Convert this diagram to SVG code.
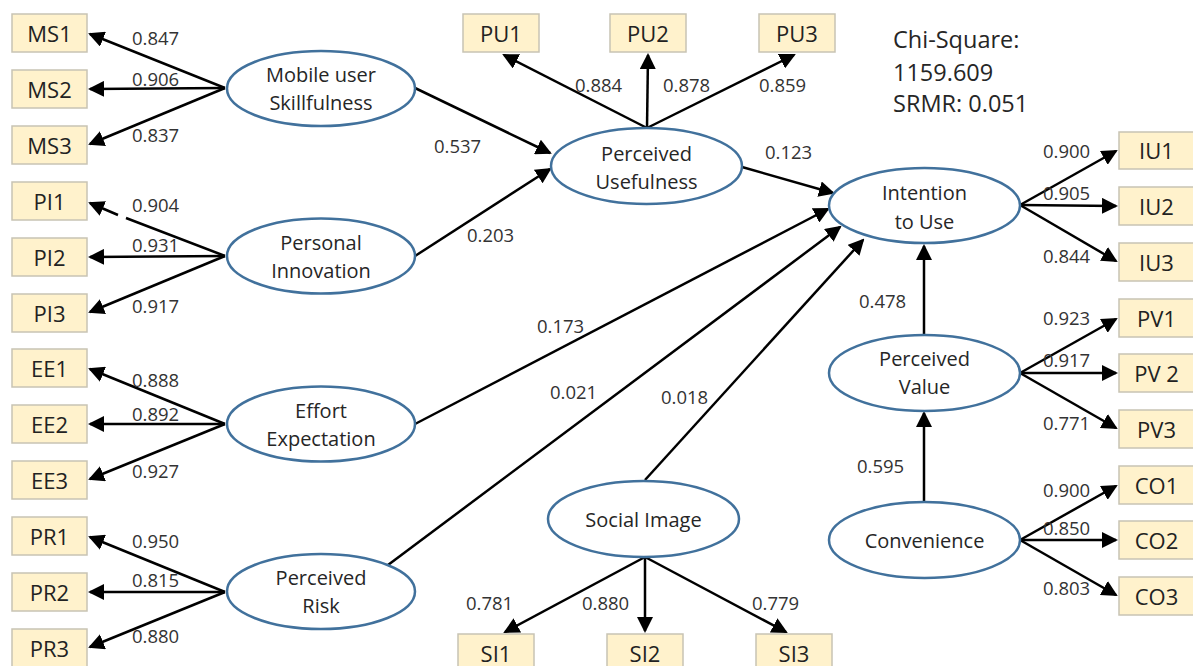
<svg xmlns="http://www.w3.org/2000/svg" width="1193" height="666" viewBox="0 0 1193 666">
<style>
.box{fill:#FFF2CC;stroke:#C8C3B4;stroke-width:1.5}
.bt{font-family:"Open Sans","Liberation Sans",sans-serif;font-size:22px;fill:#222;text-anchor:middle}
.lv{fill:#fff;stroke:#41719C;stroke-width:2.5}
.lt{font-family:"Open Sans","Liberation Sans",sans-serif;font-size:20px;fill:#262626;text-anchor:middle}
.c{stroke:#000;stroke-width:2.5;fill:none;marker-end:url(#ah)}
.w{font-family:"Open Sans","Liberation Sans",sans-serif;font-size:18.5px;fill:#333}
.fit{font-family:"Open Sans","Liberation Sans",sans-serif;font-size:23.5px;fill:#262626}
</style>
<defs>
<marker id="ah" viewBox="0 0 16 16" markerWidth="16" markerHeight="16" refX="14" refY="8" orient="auto" markerUnits="userSpaceOnUse">
<path d="M0,0 L16,8 L0,16 Z" fill="#000"/>
</marker>
</defs>
<rect width="1193" height="666" fill="#fff"/>

<g id="connectors">
<path class="c" d="M225,88 L90,34"/>
<path class="c" d="M225,88 L90,89"/>
<path class="c" d="M225,88 L90,144"/>
<path class="c" d="M225,256 L126,218 M118,215 L90,203"/>
<path class="c" d="M225,256 L90,257"/>
<path class="c" d="M225,256 L90,312"/>
<path class="c" d="M225,424 L90,369"/>
<path class="c" d="M225,424 L90,424"/>
<path class="c" d="M225,424 L90,479"/>
<path class="c" d="M225,592 L90,537"/>
<path class="c" d="M225,592 L90,592"/>
<path class="c" d="M225,592 L90,647"/>
<path class="c" d="M647,128 L504,55"/>
<path class="c" d="M647,128 L648,55"/>
<path class="c" d="M647,128 L794,55"/>
<path class="c" d="M415,88 L550,153"/>
<path class="c" d="M415,256 L550,169"/>
<path class="c" d="M742,167 L833,193"/>
<path class="c" d="M415,424 L828,209"/>
<path class="c" d="M388,565 L840,227"/>
<path class="c" d="M645,480 L863,240"/>
<path class="c" d="M924,335 L924,246"/>
<path class="c" d="M924,502 L924,413"/>
<path class="c" d="M645,557 L505,632"/>
<path class="c" d="M645,557 L645,631"/>
<path class="c" d="M645,557 L786,632"/>
<path class="c" d="M1020,205 L1116,151"/>
<path class="c" d="M1020,205 L1116,206"/>
<path class="c" d="M1020,205 L1116,261"/>
<path class="c" d="M1020,373 L1116,319"/>
<path class="c" d="M1020,373 L1116,373"/>
<path class="c" d="M1020,373 L1116,428"/>
<path class="c" d="M1020,540 L1116,486"/>
<path class="c" d="M1020,540 L1116,540"/>
<path class="c" d="M1020,540 L1116,595"/>
</g>

<g id="labels">
<text class="w" x="132" y="45">0.847</text>
<text class="w" x="132" y="86">0.906</text>
<text class="w" x="132" y="142">0.837</text>
<text class="w" x="132" y="212">0.904</text>
<text class="w" x="132" y="252">0.931</text>
<text class="w" x="132" y="313">0.917</text>
<text class="w" x="132" y="387">0.888</text>
<text class="w" x="132" y="421">0.892</text>
<text class="w" x="132" y="478">0.927</text>
<text class="w" x="132" y="548">0.950</text>
<text class="w" x="132" y="587">0.815</text>
<text class="w" x="132" y="643">0.880</text>
<text class="w" x="575" y="92">0.884</text>
<text class="w" x="663" y="92">0.878</text>
<text class="w" x="759" y="92">0.859</text>
<text class="w" x="434" y="153">0.537</text>
<text class="w" x="467" y="242">0.203</text>
<text class="w" x="765" y="159">0.123</text>
<text class="w" x="537" y="333">0.173</text>
<text class="w" x="550" y="399">0.021</text>
<text class="w" x="661" y="404">0.018</text>
<text class="w" x="466" y="610">0.781</text>
<text class="w" x="582" y="610">0.880</text>
<text class="w" x="752" y="610">0.779</text>
<text class="w" x="859" y="308">0.478</text>
<text class="w" x="857" y="473">0.595</text>
<text class="w" x="1043" y="158">0.900</text>
<text class="w" x="1043" y="200">0.905</text>
<text class="w" x="1043" y="263">0.844</text>
<text class="w" x="1043" y="325">0.923</text>
<text class="w" x="1043" y="367">0.917</text>
<text class="w" x="1043" y="430">0.771</text>
<text class="w" x="1043" y="497">0.900</text>
<text class="w" x="1043" y="535">0.850</text>
<text class="w" x="1043" y="595">0.803</text>
</g>

<g id="fit">
<text class="fit" x="893" y="48">Chi-Square:</text>
<text class="fit" x="893" y="81">1159.609</text>
<text class="fit" x="893" y="112">SRMR: 0.051</text>
</g>

<g id="MS">
<ellipse class="lv" cx="321" cy="88.5" rx="94" ry="37.5"/>
<text class="lt" x="321" y="82">Mobile user</text>
<text class="lt" x="321" y="110">Skillfulness</text>
</g>
<g id="PI">
<ellipse class="lv" cx="321" cy="256" rx="94" ry="37.5"/>
<text class="lt" x="321" y="250">Personal</text>
<text class="lt" x="321" y="278">Innovation</text>
</g>
<g id="EE">
<ellipse class="lv" cx="321" cy="424" rx="94" ry="37.5"/>
<text class="lt" x="321" y="418">Effort</text>
<text class="lt" x="321" y="446">Expectation</text>
</g>
<g id="PR">
<ellipse class="lv" cx="321" cy="591.5" rx="94" ry="37.5"/>
<text class="lt" x="321" y="585">Perceived</text>
<text class="lt" x="321" y="613">Risk</text>
</g>
<g id="PU">
<ellipse class="lv" cx="646.5" cy="166" rx="95.5" ry="38"/>
<text class="lt" x="646.5" y="161">Perceived</text>
<text class="lt" x="646.5" y="189">Usefulness</text>
</g>
<g id="IU">
<ellipse class="lv" cx="924.5" cy="205.5" rx="95.5" ry="37.5"/>
<text class="lt" x="924.5" y="200">Intention</text>
<text class="lt" x="924.5" y="229">to Use</text>
</g>
<g id="PV">
<ellipse class="lv" cx="924.5" cy="373" rx="95.5" ry="38"/>
<text class="lt" x="924.5" y="366">Perceived</text>
<text class="lt" x="924.5" y="394">Value</text>
</g>
<g id="CO">
<ellipse class="lv" cx="924.5" cy="540" rx="95.5" ry="38"/>
<text class="lt" x="924.5" y="548">Convenience</text>
</g>
<g id="SI">
<ellipse class="lv" cx="643.5" cy="519" rx="95.5" ry="38"/>
<text class="lt" x="643.5" y="527">Social Image</text>
</g>

<g id="MS1"><rect class="box" x="12" y="14" width="75" height="38"/><text class="bt" x="49.5" y="42">MS1</text></g>
<g id="MS2"><rect class="box" x="12" y="70" width="75" height="38"/><text class="bt" x="49.5" y="98">MS2</text></g>
<g id="MS3"><rect class="box" x="12" y="126" width="75" height="38"/><text class="bt" x="49.5" y="154">MS3</text></g>
<g id="PI1"><rect class="box" x="12" y="182" width="75" height="38"/><text class="bt" x="49.5" y="210">PI1</text></g>
<g id="PI2"><rect class="box" x="12" y="238" width="75" height="38"/><text class="bt" x="49.5" y="266">PI2</text></g>
<g id="PI3"><rect class="box" x="12" y="294" width="75" height="38"/><text class="bt" x="49.5" y="322">PI3</text></g>
<g id="EE1"><rect class="box" x="12" y="349" width="75" height="38"/><text class="bt" x="49.5" y="377">EE1</text></g>
<g id="EE2"><rect class="box" x="12" y="405" width="75" height="38"/><text class="bt" x="49.5" y="433">EE2</text></g>
<g id="EE3"><rect class="box" x="12" y="461" width="75" height="38"/><text class="bt" x="49.5" y="489">EE3</text></g>
<g id="PR1"><rect class="box" x="12" y="517" width="75" height="38"/><text class="bt" x="49.5" y="545">PR1</text></g>
<g id="PR2"><rect class="box" x="12" y="573" width="75" height="38"/><text class="bt" x="49.5" y="601">PR2</text></g>
<g id="PR3"><rect class="box" x="12" y="629" width="75" height="38"/><text class="bt" x="49.5" y="657">PR3</text></g>

<g id="PU1"><rect class="box" x="463" y="14" width="76" height="38"/><text class="bt" x="501" y="42">PU1</text></g>
<g id="PU2"><rect class="box" x="610" y="14" width="76" height="38"/><text class="bt" x="648" y="42">PU2</text></g>
<g id="PU3"><rect class="box" x="759" y="14" width="76" height="38"/><text class="bt" x="797" y="42">PU3</text></g>

<g id="SI1"><rect class="box" x="458" y="634" width="76" height="38"/><text class="bt" x="496" y="662">SI1</text></g>
<g id="SI2"><rect class="box" x="607" y="634" width="76" height="38"/><text class="bt" x="645" y="662">SI2</text></g>
<g id="SI3"><rect class="box" x="756" y="634" width="76" height="38"/><text class="bt" x="794" y="662">SI3</text></g>

<g id="IU1"><rect class="box" x="1119" y="132" width="75" height="37"/><text class="bt" x="1156.5" y="159">IU1</text></g>
<g id="IU2"><rect class="box" x="1119" y="187" width="75" height="38"/><text class="bt" x="1156.5" y="215">IU2</text></g>
<g id="IU3"><rect class="box" x="1119" y="243" width="75" height="38"/><text class="bt" x="1156.5" y="271">IU3</text></g>
<g id="PV1"><rect class="box" x="1119" y="299" width="75" height="38"/><text class="bt" x="1156.5" y="327">PV1</text></g>
<g id="PV2"><rect class="box" x="1119" y="354" width="75" height="38"/><text class="bt" x="1156.5" y="382">PV 2</text></g>
<g id="PV3"><rect class="box" x="1119" y="410" width="75" height="38"/><text class="bt" x="1156.5" y="438">PV3</text></g>
<g id="CO1"><rect class="box" x="1119" y="466" width="75" height="38"/><text class="bt" x="1156.5" y="494">CO1</text></g>
<g id="CO2"><rect class="box" x="1119" y="521" width="75" height="38"/><text class="bt" x="1156.5" y="549">CO2</text></g>
<g id="CO3"><rect class="box" x="1119" y="577" width="75" height="38"/><text class="bt" x="1156.5" y="605">CO3</text></g>
</svg>
